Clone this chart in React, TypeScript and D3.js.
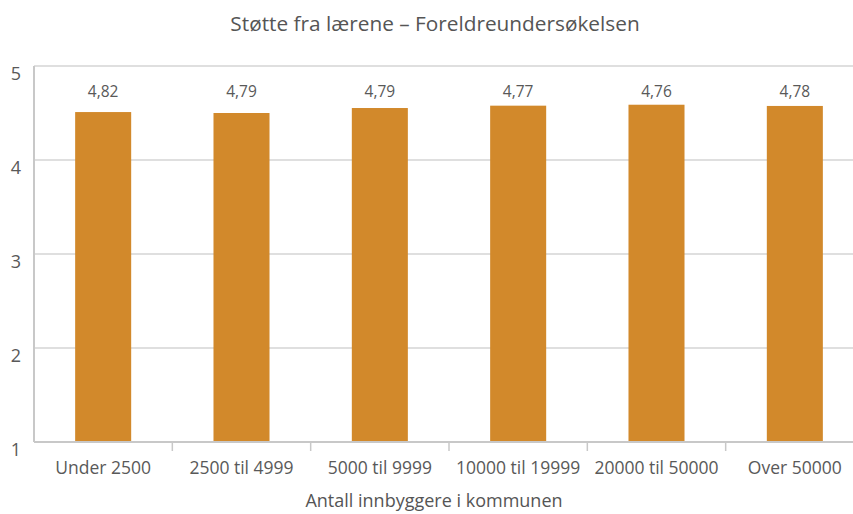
import * as d3 from "d3";
import React, { useEffect, useRef } from "react";

const categories = ["Under 2500", "2500 til 4999", "5000 til 9999", "10000 til 19999", "20000 til 50000", "Over 50000"];
// bar heights as drawn in the picture
const barValues = [4.51, 4.5, 4.553, 4.578, 4.588, 4.575];
// value labels printed above the bars
const valueLabels = ["4,82", "4,79", "4,79", "4,77", "4,76", "4,78"];
const yTicks = [1, 2, 3, 4, 5];

const title = "Støtte fra lærene – Foreldreundersøkelsen";
const xTitle = "Antall innbyggere i kommunen";

export default function App() {
    const svgRef = useRef<SVGSVGElement>(null);

    useEffect(() => {
        const svgWidth = 853;
        const svgHeight = 514;
        const margin = { top: 66, right: -11, bottom: 72, left: 34 };
        const font = "'Open Sans', sans-serif";
        const textColor = "#595959";

        const svg = d3.select(svgRef.current)
            .attr("width", svgWidth)
            .attr("height", svgHeight);
        svg.selectAll("*").remove();

        const x = d3.scaleBand()
            .domain(categories)
            .range([margin.left, svgWidth - margin.right])
            .paddingInner(0.595)
            .paddingOuter(0.2975);
        const step = x.step();

        const y = d3.scaleLinear()
            .domain([1, 5])
            .range([svgHeight - margin.bottom, margin.top]);

        // title
        svg.append("text")
            .attr("x", 435)
            .attr("y", 31)
            .attr("text-anchor", "middle")
            .style("font-family", font)
            .style("font-size", "20.8px")
            .style("fill", "#555")
            .text(title);

        // gridlines
        svg.append("g")
            .selectAll("line")
            .data(yTicks.slice(1))
            .enter().append("line")
            .attr("x1", margin.left)
            .attr("x2", svgWidth)
            .attr("y1", d => y(d))
            .attr("y2", d => y(d))
            .style("stroke", "#d4d4d4")
            .style("stroke-width", 1.5);

        // y labels
        svg.append("g")
            .selectAll("text")
            .data(yTicks)
            .enter().append("text")
            .attr("x", 16)
            .attr("y", d => y(d) + 14)
            .attr("text-anchor", "middle")
            .style("font-family", font)
            .style("font-size", "18px")
            .style("fill", textColor)
            .text(d => d);

        // bars
        svg.append("g")
            .selectAll("rect")
            .data(categories)
            .enter().append("rect")
            .attr("x", d => x(d)!)
            .attr("width", x.bandwidth())
            .attr("y", (d, i) => y(barValues[i]))
            .attr("height", (d, i) => y(1) - y(barValues[i]))
            .style("fill", "#d2892b");

        // value labels
        svg.append("g")
            .selectAll("text")
            .data(categories)
            .enter().append("text")
            .attr("x", d => x(d)! + x.bandwidth() / 2)
            .attr("y", 97)
            .attr("text-anchor", "middle")
            .style("font-family", font)
            .style("font-size", "15.5px")
            .style("fill", textColor)
            .text((d, i) => valueLabels[i]);

        // axes lines
        svg.append("line")
            .attr("x1", margin.left)
            .attr("x2", margin.left)
            .attr("y1", y(5))
            .attr("y2", y(1))
            .style("stroke", "#c8c8c8")
            .style("stroke-width", 2);
        svg.append("line")
            .attr("x1", margin.left)
            .attr("x2", svgWidth)
            .attr("y1", y(1))
            .attr("y2", y(1))
            .style("stroke", "#c8c8c8")
            .style("stroke-width", 2);

        // x ticks between categories
        svg.append("g")
            .selectAll("line")
            .data(categories.slice(1))
            .enter().append("line")
            .attr("x1", d => x(d)! - (step - x.bandwidth()) / 2)
            .attr("x2", d => x(d)! - (step - x.bandwidth()) / 2)
            .attr("y1", y(1))
            .attr("y2", y(1) + 9)
            .style("stroke", "#c8c8c8")
            .style("stroke-width", 1.5);

        // x labels
        svg.append("g")
            .selectAll("text")
            .data(categories)
            .enter().append("text")
            .attr("x", d => x(d)! + x.bandwidth() / 2)
            .attr("y", 474)
            .attr("text-anchor", "middle")
            .style("font-family", font)
            .style("font-size", "17.5px")
            .style("fill", textColor)
            .text(d => d);

        // x title
        svg.append("text")
            .attr("x", 434)
            .attr("y", 507)
            .attr("text-anchor", "middle")
            .style("font-family", font)
            .style("font-size", "18px")
            .style("fill", "#555")
            .text(xTitle);
    }, []);

    return (
        <div style={{ position: "absolute", left: 0, top: 0 }}>
            <svg ref={svgRef} style={{ display: "block", overflow: "hidden" }}></svg>
        </div>
    );
}
